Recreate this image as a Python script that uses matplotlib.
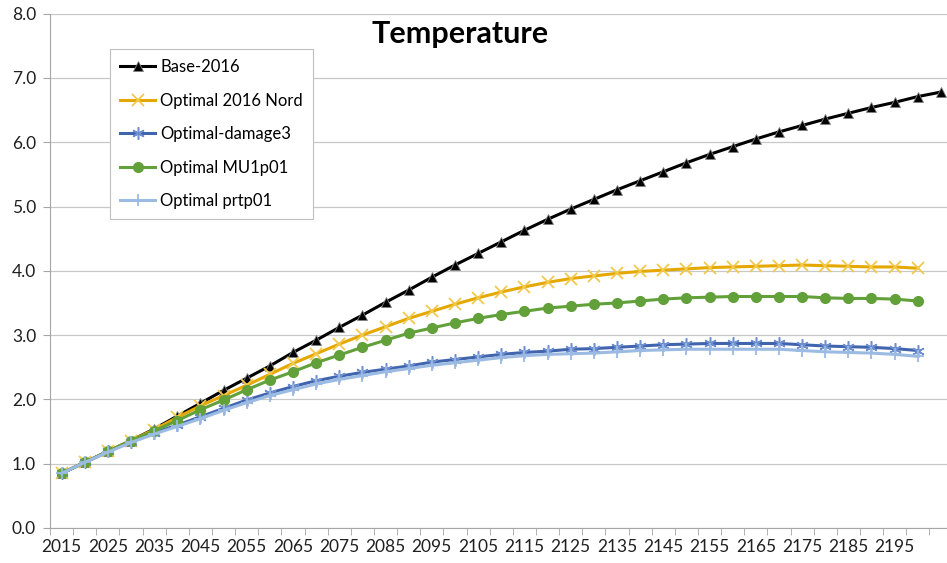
import numpy as np
import matplotlib
matplotlib.use("Agg")
import matplotlib.pyplot as plt
from matplotlib.ticker import FixedLocator, FormatStrFormatter

plt.rcParams['font.family'] = ['Lato', 'DejaVu Sans']

# years, 5-year steps
years_base = list(range(2015, 2206, 5))   # 39 points
years_opt = list(range(2015, 2201, 5))    # 38 points

base_2016 = [0.85, 1.02, 1.19, 1.36, 1.54, 1.74, 1.94, 2.14, 2.33, 2.52,
             2.73, 2.92, 3.12, 3.31, 3.51, 3.70, 3.90, 4.09, 4.27, 4.45,
             4.63, 4.80, 4.96, 5.11, 5.26, 5.40, 5.54, 5.68, 5.81, 5.93,
             6.05, 6.16, 6.26, 6.36, 6.45, 6.54, 6.62, 6.71, 6.78]
opt_2016_nord = [0.85, 1.02, 1.19, 1.36, 1.53, 1.72, 1.90, 2.06, 2.22, 2.39,
                 2.56, 2.71, 2.86, 3.00, 3.13, 3.26, 3.37, 3.48, 3.58, 3.67,
                 3.75, 3.82, 3.88, 3.92, 3.96, 3.99, 4.01, 4.03, 4.05, 4.06,
                 4.07, 4.08, 4.09, 4.08, 4.07, 4.06, 4.06, 4.04]
opt_damage3 = [0.85, 1.02, 1.19, 1.34, 1.48, 1.60, 1.73, 1.86, 1.99, 2.10,
               2.20, 2.29, 2.36, 2.42, 2.47, 2.52, 2.58, 2.62, 2.66, 2.70,
               2.73, 2.75, 2.78, 2.79, 2.81, 2.83, 2.85, 2.86, 2.87, 2.87,
               2.87, 2.87, 2.85, 2.83, 2.82, 2.81, 2.79, 2.76]
opt_mu1p01 = [0.85, 1.02, 1.19, 1.36, 1.51, 1.67, 1.84, 1.99, 2.15, 2.30,
              2.43, 2.57, 2.69, 2.81, 2.92, 3.03, 3.11, 3.19, 3.26, 3.32,
              3.37, 3.42, 3.45, 3.48, 3.50, 3.53, 3.56, 3.58, 3.59, 3.60,
              3.60, 3.60, 3.60, 3.58, 3.57, 3.57, 3.56, 3.53]
opt_prtp01 = [0.85, 1.02, 1.18, 1.33, 1.46, 1.58, 1.70, 1.83, 1.95, 2.06,
              2.15, 2.24, 2.31, 2.37, 2.43, 2.48, 2.53, 2.57, 2.61, 2.65,
              2.68, 2.70, 2.71, 2.72, 2.74, 2.76, 2.77, 2.78, 2.78, 2.78,
              2.78, 2.78, 2.76, 2.74, 2.73, 2.72, 2.70, 2.67]

tick_years = years_base[::2][:-1]   # 2015, 2025, ..., 2195

fig = plt.figure(figsize=(9.47, 5.63), dpi=100)
ax = fig.add_axes([0.0528, 0.0622, 0.953, 0.9136])

xb = np.arange(len(years_base))
xo = np.arange(len(years_opt))

ax.plot(xb, base_2016, color='black', lw=2.2, marker='^', ms=7,
        mfc='black', mec='#808080', mew=0.6, label='Base-2016')
ax.plot(xo, opt_2016_nord, color='#E5A800', lw=2.2, marker='x', ms=8,
        mec='#F2C94C', mew=1.3, label='Optimal 2016 Nord')
ax.plot(xo, opt_damage3, color='#4164AE', lw=2.2, marker=(6, 2, 0), ms=9,
        mec='#6E8FCF', mew=1.1, label='Optimal-damage3')
ax.plot(xo, opt_mu1p01, color='#62A03A', lw=2.2, marker='o', ms=7,
        mfc='#62A03A', mec='#62A03A', label='Optimal MU1p01')
ax.plot(xo, opt_prtp01, color='#9BBBE3', lw=2.2, marker='+', ms=9,
        mec='#9BBBE3', mew=1.3, label='Optimal prtp01')

ax.set_xlim(-0.5, len(years_base) - 0.5)
ax.set_ylim(0, 8)

# category axis: labels every other point, tick marks between categories
ax.xaxis.set_major_locator(FixedLocator([years_base.index(y) for y in tick_years]))
ax.set_xticklabels([str(y) for y in tick_years])
ax.xaxis.set_minor_locator(FixedLocator(np.arange(-0.5, len(years_base), 1)))
ax.tick_params(axis='x', which='major', length=0, pad=8, labelsize=12.5, labelcolor='#202020')
ax.tick_params(axis='x', which='minor', length=5, color='#A6A6A6', direction='out')

ax.set_yticks(np.arange(0, 8.1, 1))
ax.yaxis.set_major_formatter(FormatStrFormatter('%.1f'))
ax.tick_params(axis='y', length=5, color='#A6A6A6', labelsize=12.5, labelcolor='#202020', pad=5)

ax.grid(axis='y', color='#C8C8C8', lw=0.9)
ax.set_axisbelow(True)
for s in ['top', 'right']:
    ax.spines[s].set_visible(False)
ax.spines['left'].set_color('#A6A6A6')
ax.spines['bottom'].set_color('#A6A6A6')

fig.text(0.486, 0.94, 'Temperature', ha='center', va='center',
         fontsize=22, fontweight='bold', color='black')

leg = ax.legend(loc='upper left', bbox_to_anchor=(0.0665, 0.931), fontsize=12,
                handlelength=2.1, labelspacing=1.05, borderpad=0.6,
                handletextpad=0.3, borderaxespad=0, fancybox=False, framealpha=1,
                edgecolor='#BFBFBF')
leg.get_frame().set_linewidth(0.8)

fig.savefig('out.png', dpi=100)
